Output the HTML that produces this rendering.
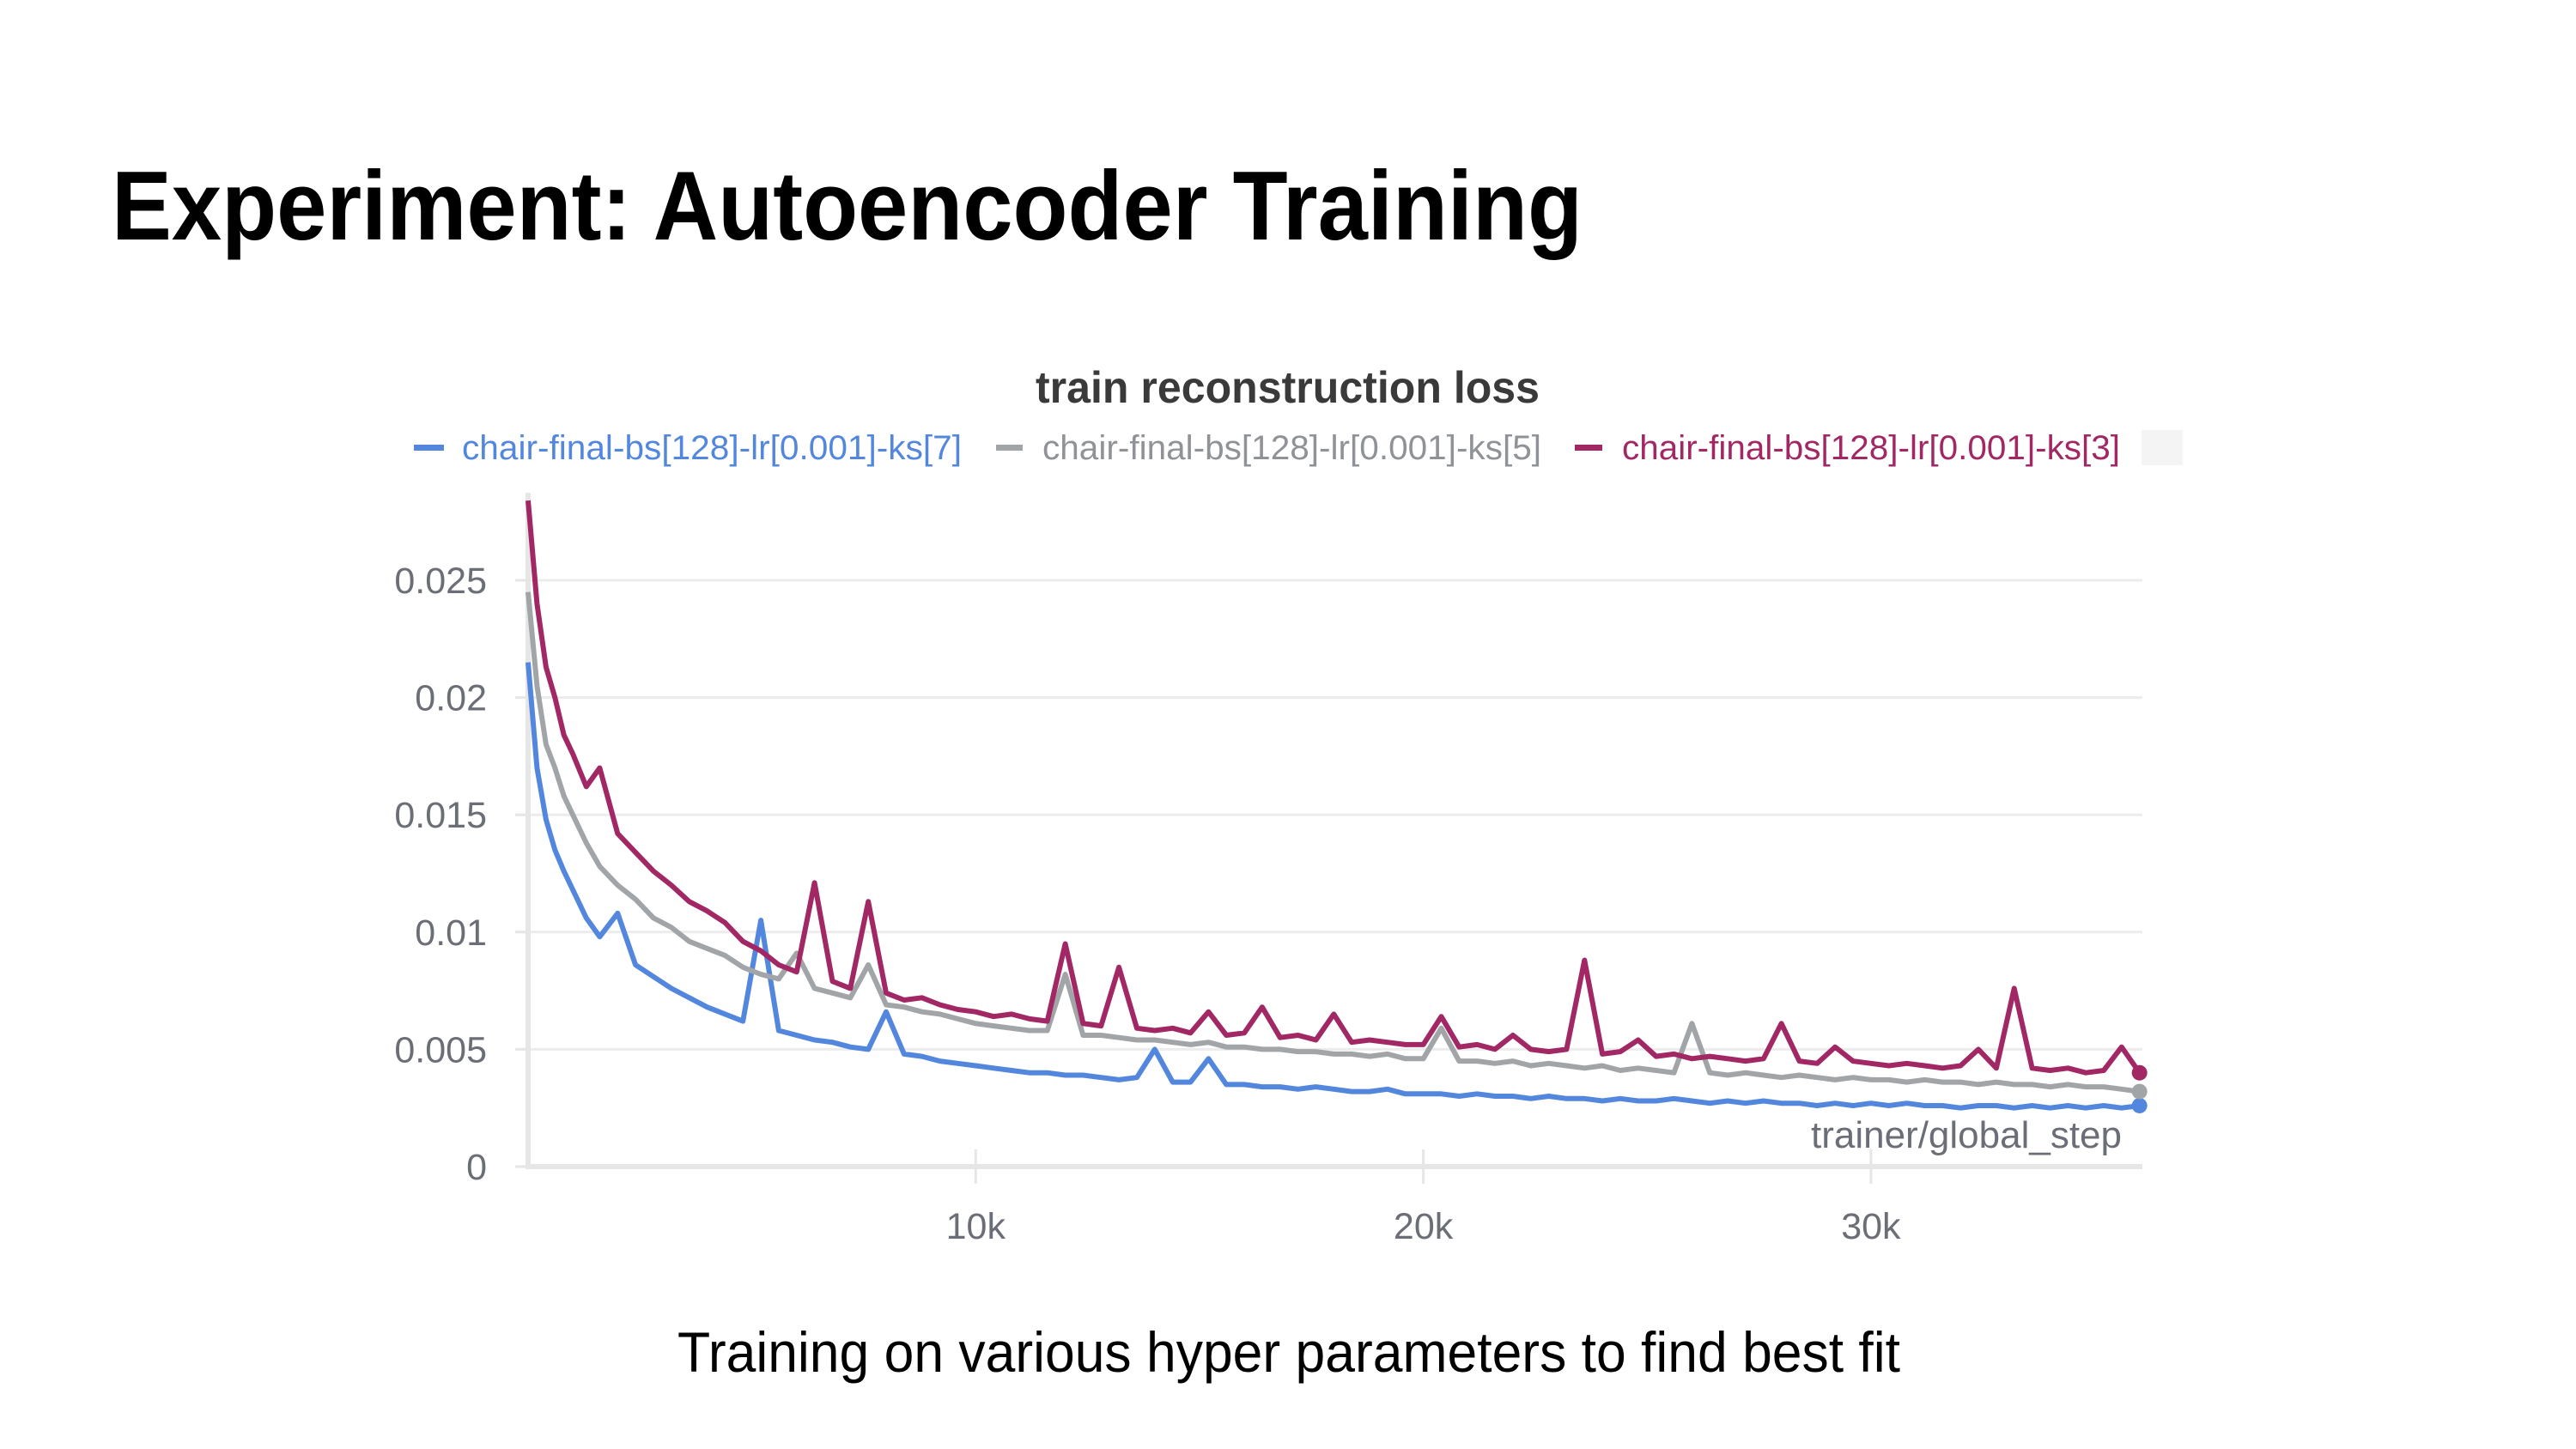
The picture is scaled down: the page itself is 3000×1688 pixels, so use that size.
<!DOCTYPE html>
<html><head><meta charset="utf-8"><style>
html,body{margin:0;padding:0;background:#fff;}
svg{display:block;}
text{font-family:"Liberation Sans",sans-serif;}
</style></head><body>
<svg id="s" width="3000" height="1688" viewBox="0 0 3000 1688" xmlns="http://www.w3.org/2000/svg">
<text x="130" y="279" font-size="114" font-weight="bold" fill="#000" textLength="1713" lengthAdjust="spacingAndGlyphs">Experiment: Autoencoder Training</text>
<text x="1206" y="469" font-size="52" font-weight="bold" fill="#3a3a3a" textLength="587" lengthAdjust="spacingAndGlyphs">train reconstruction loss</text>
<g>
<g><rect x="482" y="518" width="35" height="7" fill="#5387dd"/><text x="538" y="535" font-size="40" fill="#5387dd" textLength="582" lengthAdjust="spacingAndGlyphs">chair-final-bs[128]-lr[0.001]-ks[7]</text></g>
<g><rect x="1160" y="518" width="31" height="7" fill="#a2a5a8"/><text x="1214" y="535" font-size="40" fill="#8f9296" textLength="581" lengthAdjust="spacingAndGlyphs">chair-final-bs[128]-lr[0.001]-ks[5]</text></g>
<g><rect x="1834" y="518" width="32" height="7" fill="#a12864"/><text x="1889" y="535" font-size="40" fill="#a12864" textLength="580" lengthAdjust="spacingAndGlyphs">chair-final-bs[128]-lr[0.001]-ks[3]</text></g>
<rect x="2494" y="501" width="48" height="41" fill="#f4f4f4"/>
</g>
<g id="plot"></g>
<text x="2471" y="1337" font-size="44" fill="#6b6e76" text-anchor="end">trainer/global_step</text>
<text x="789" y="1598" font-size="66" fill="#000" textLength="1424" lengthAdjust="spacingAndGlyphs">Training on various hyper parameters to find best fit</text>
</svg>
<script>
const steps=[0,200,400,600,800,1000,1300,1600,2000,2400,2800,3200,3600,4000,4400,4800,5200,5600,6000,6400,6800,7200,7600,8000,8400,8800,9200,9600,10000,10400,10800,11200,11600,12000,12400,12800,13200,13600,14000,14400,14800,15200,15600,16000,16400,16800,17200,17600,18000,18400,18800,19200,19600,20000,20400,20800,21200,21600,22000,22400,22800,23200,23600,24000,24400,24800,25200,25600,26000,26400,26800,27200,27600,28000,28400,28800,29200,29600,30000,30400,30800,31200,31600,32000,32400,32800,33200,33600,34000,34400,34800,35200,35600,36000];
const ks3=[28.4,24.0,21.3,20.0,18.4,17.6,16.2,17.0,14.2,13.4,12.6,12.0,11.3,10.9,10.4,9.6,9.2,8.6,8.3,12.1,7.9,7.6,11.3,7.4,7.1,7.2,6.9,6.7,6.6,6.4,6.5,6.3,6.2,9.5,6.1,6.0,8.5,5.9,5.8,5.9,5.7,6.6,5.6,5.7,6.8,5.5,5.6,5.4,6.5,5.3,5.4,5.3,5.2,5.2,6.4,5.1,5.2,5.0,5.6,5.0,4.9,5.0,8.8,4.8,4.9,5.4,4.7,4.8,4.6,4.7,4.6,4.5,4.6,6.1,4.5,4.4,5.1,4.5,4.4,4.3,4.4,4.3,4.2,4.3,5.0,4.2,7.6,4.2,4.1,4.2,4.0,4.1,5.1,4.0];
const ks5=[24.5,20.5,18.0,17.0,15.8,15.0,13.8,12.8,12.0,11.4,10.6,10.2,9.6,9.3,9.0,8.5,8.2,8.0,9.1,7.6,7.4,7.2,8.6,6.9,6.8,6.6,6.5,6.3,6.1,6.0,5.9,5.8,5.8,8.2,5.6,5.6,5.5,5.4,5.4,5.3,5.2,5.3,5.1,5.1,5.0,5.0,4.9,4.9,4.8,4.8,4.7,4.8,4.6,4.6,5.9,4.5,4.5,4.4,4.5,4.3,4.4,4.3,4.2,4.3,4.1,4.2,4.1,4.0,6.1,4.0,3.9,4.0,3.9,3.8,3.9,3.8,3.7,3.8,3.7,3.7,3.6,3.7,3.6,3.6,3.5,3.6,3.5,3.5,3.4,3.5,3.4,3.4,3.3,3.2];
const ks7=[21.5,17.0,14.8,13.5,12.6,11.8,10.6,9.8,10.8,8.6,8.1,7.6,7.2,6.8,6.5,6.2,10.5,5.8,5.6,5.4,5.3,5.1,5.0,6.6,4.8,4.7,4.5,4.4,4.3,4.2,4.1,4.0,4.0,3.9,3.9,3.8,3.7,3.8,5.0,3.6,3.6,4.6,3.5,3.5,3.4,3.4,3.3,3.4,3.3,3.2,3.2,3.3,3.1,3.1,3.1,3.0,3.1,3.0,3.0,2.9,3.0,2.9,2.9,2.8,2.9,2.8,2.8,2.9,2.8,2.7,2.8,2.7,2.8,2.7,2.7,2.6,2.7,2.6,2.7,2.6,2.7,2.6,2.6,2.5,2.6,2.6,2.5,2.6,2.5,2.6,2.5,2.6,2.5,2.6];
const yTicks=[0,0.005,0.01,0.015,0.02,0.025];
const yTickLabels=["0","0.005","0.01","0.015","0.02","0.025"];
const xTicks=[10000,20000,30000];
const xTickLabels=["10k","20k","30k"];

const NS="http://www.w3.org/2000/svg";
const X0=615,XR=2495,PXPER10K=521.3,Y0=1359,PXPER005=136.6;
function xs(v){return X0+v/10000*PXPER10K;}
function ys(v){return Y0-v/0.005*PXPER005;}
const plot=document.getElementById('plot');
function mk(tag,attrs){const e=document.createElementNS(NS,tag);for(const k in attrs)e.setAttribute(k,attrs[k]);return e;}

yTicks.forEach((t,i)=>{
  if(t>0){const g=mk('line',{x1:600,x2:XR,y1:ys(t),y2:ys(t),stroke:'#ececec','stroke-width':3});
  
  
  plot.appendChild(g);}
  const tk=mk('line',{x1:600,x2:618,y1:ys(t),y2:ys(t),stroke:'#e6e6e6','stroke-width':3});
  
  
  plot.appendChild(tk);
  const lb=mk('text',{x:567,y:ys(t)+15,'font-size':43,fill:'#6b6e76','text-anchor':'end'});
  lb.textContent=yTickLabels[i];
  
  
  plot.appendChild(lb);
});
const ya=mk('line',{x1:X0,x2:X0,y1:574,y2:Y0+3,stroke:'#e6e6e6','stroke-width':6});


plot.appendChild(ya);
const xa=mk('line',{x1:X0-3,x2:XR,y1:Y0,y2:Y0,stroke:'#e6e6e6','stroke-width':6});


plot.appendChild(xa);
xTicks.forEach((t,i)=>{
  const tk=mk('line',{x1:xs(t),x2:xs(t),y1:Y0-20,y2:Y0+20,stroke:'#e6e6e6','stroke-width':3});
  
  
  plot.appendChild(tk);
  const lb=mk('text',{x:xs(t),y:1443,'font-size':43,fill:'#6b6e76','text-anchor':'middle'});
  lb.textContent=xTickLabels[i];
  
  
  plot.appendChild(lb);
});
function series(vals,color,name){
  const n=Math.min(steps.length,vals.length);
  let d='';
  for(let i=0;i<n;i++){d+=(i?'L':'M')+xs(steps[i]).toFixed(1)+' '+ys(vals[i]/1000).toFixed(1);}
  const p=mk('path',{d:d,fill:'none',stroke:color,'stroke-width':6,'stroke-linejoin':'round'});
  
  
  plot.appendChild(p);
  const c=mk('circle',{cx:xs(steps[n-1]),cy:ys(vals[n-1]/1000),r:9,fill:color});
  
  
  plot.appendChild(c);
}
series(ks7,'#5387dd','series-ks7');
series(ks5,'#a2a5a8','series-ks5');
series(ks3,'#a12864','series-ks3');
</script>
</body></html>
